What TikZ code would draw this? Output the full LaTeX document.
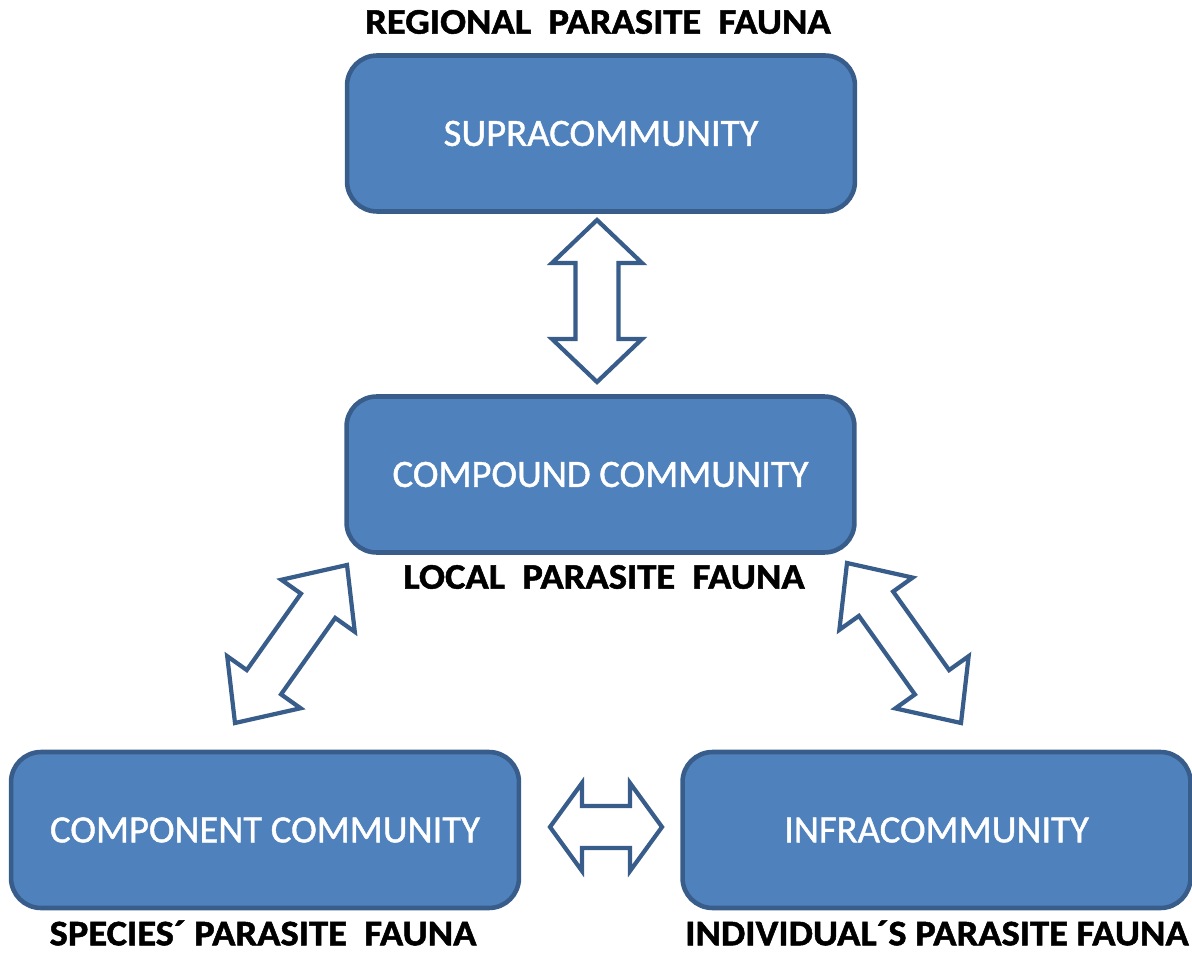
\documentclass[tikz,border=0pt]{standalone}
\usepackage{fontspec}
\setmainfont{Carlito}
\newfontfamily\heavyfont{Carlito}[BoldFeatures={FakeBold=1.4, FakeStretch=1.07}]
\newfontfamily\boxfont{Carlito}[FakeBold=1.1]
\usetikzlibrary{calc, positioning}
\definecolor{boxblue}{HTML}{4F81BD}
\definecolor{edgeblue}{HTML}{385D8A}
\tikzset{
  commbox/.style = {rectangle, draw=edgeblue, line width=2.6pt, fill=boxblue,
    rounded corners=0.6cm, minimum width=10.16cm, minimum height=3.12cm,
    text=white, font=\boxfont\fontsize{22}{26}\selectfont},
  fauna/.style = {inner sep=0pt, font=\heavyfont\fontsize{20.5}{24}\selectfont\bfseries},
  blockarrow/.style = {draw=edgeblue, line width=2.4pt, fill=white, line join=miter},
}
% double block arrow: from, to, head length, head width, shaft width (px)
\newcommand{\dblarrow}[5]{%
  \pgfmathsetmacro\arhd{0.02*sqrt((#3)^2+((#4)/2)^2)}
  \pgfmathsetmacro\arha{atan2((#4)/2,#3)}
  \pgfmathsetmacro\arsd{0.02*sqrt((#3)^2+((#5)/2)^2)}
  \pgfmathsetmacro\arsa{atan2((#5)/2,#3)}
  \draw[blockarrow] (#1) -- ($(#1)!\arhd cm!\arha:(#2)$) -- ($(#1)!\arsd cm!\arsa:(#2)$)
    -- ($(#2)!\arsd cm!-\arsa:(#1)$) -- ($(#2)!\arhd cm!-\arha:(#1)$) -- (#2)
    -- ($(#2)!\arhd cm!\arha:(#1)$) -- ($(#2)!\arsd cm!\arsa:(#1)$)
    -- ($(#1)!\arsd cm!-\arsa:(#2)$) -- ($(#1)!\arhd cm!-\arha:(#2)$) -- cycle;
}

\begin{document}
\begin{tikzpicture}[x=0.02cm, y=-0.02cm]
  \useasboundingbox (0,0) rectangle (1192,955);

  % Communities
  \node[commbox] (supra)     at (601,133.5) {SUPRACOMMUNITY};
  \node[commbox] (compound)  at (600.5,474.5) {COMPOUND COMMUNITY};
  \node[commbox] (component) at (265,830) {COMPONENT COMMUNITY};
  \node[commbox] (infra)     at (936.5,830) {INFRACOMMUNITY};

  % Fauna labels
  \node[fauna] (regional)   at (598,22)  {REGIONAL\ \ PARASITE\ \ FAUNA};
  \node[fauna] (local)      at (604,577) {LOCAL\ \ PARASITE\ \ FAUNA};
  \node[fauna] (species)    at (263,933) {SPECIES´ PARASITE\ \ FAUNA};
  \node[fauna] (individual) at (937,933) {INDIVIDUAL´S PARASITE FAUNA};

  % Arrow ends
  \coordinate (vtop) at (597,220);
  \coordinate (vbot) at (597,382);
  \coordinate (ltop) at (347,565);
  \coordinate (lbot) at (235,723);
  \coordinate (rtop) at (847,563);
  \coordinate (rbot) at (961,723);
  \coordinate (hlft) at (550,827);
  \coordinate (hrgt) at (662,827);

  % Arrows
  \dblarrow{vtop}{vbot}{43}{90}{43}
  \dblarrow{ltop}{lbot}{50}{90}{42}
  \dblarrow{rtop}{rbot}{50}{90}{42}
  \dblarrow{hlft}{hrgt}{32}{88}{42}

\end{tikzpicture}
\end{document}
